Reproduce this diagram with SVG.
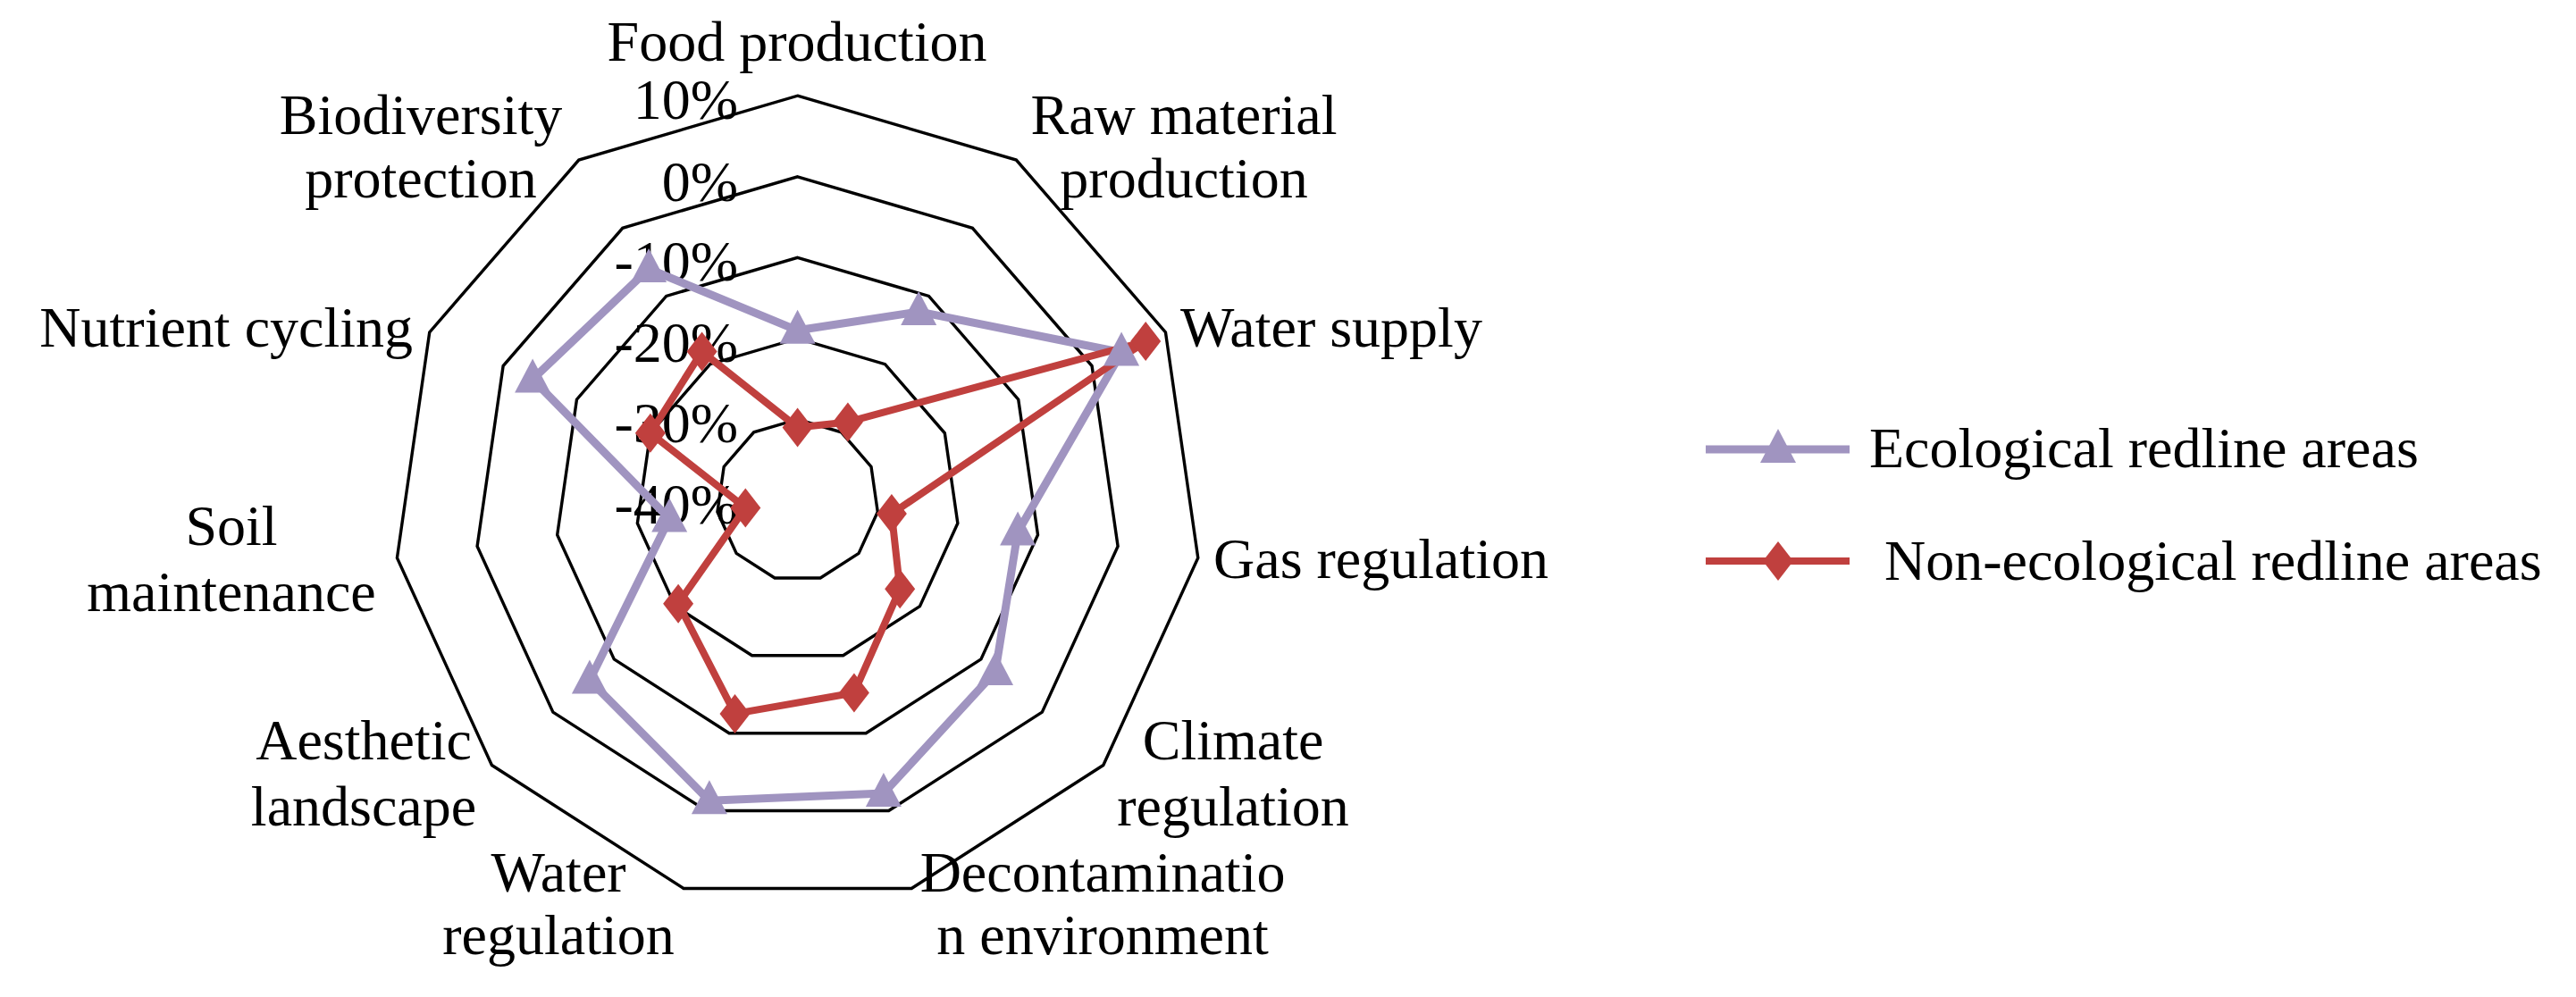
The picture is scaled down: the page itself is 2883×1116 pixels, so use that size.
<svg xmlns="http://www.w3.org/2000/svg" xmlns:xlink="http://www.w3.org/1999/xlink" width="2883" height="1116" viewBox="0 0 2883 1116">
<style>
text{font-family:"Liberation Serif","Times New Roman",serif;font-size:64px;fill:#000}
.c{text-anchor:middle}.r{text-anchor:end}
.ring{fill:none;stroke:#000}
.eco{fill:none;stroke:#A094C0;stroke-width:9;stroke-linejoin:round}
.non{fill:none;stroke:#C0403E;stroke-width:8;stroke-linejoin:round}
</style>
<defs>
<polygon id="ring" points="0,-100 54.06,-84.13 90.96,-41.54 98.98,14.23 75.57,65.49 28.17,95.95 -28.17,95.95 -75.57,65.49 -98.98,14.23 -90.96,-41.54 -54.06,-84.13"/>
<polygon id="tri" points="0,-23 20,15 -20,15" fill="#A094C0"/>
<polygon id="dia" points="0,-22 17,0 0,22 -17,0" fill="#C0403E"/>
</defs>
<rect width="2883" height="1116" fill="#fff"/>
<g id="grid" transform="translate(892.6,560)">
<use xlink:href="#ring" class="ring" transform="scale(4.528)" stroke-width="0.75"/>
<use xlink:href="#ring" class="ring" transform="scale(3.622)" stroke-width="0.94"/>
<use xlink:href="#ring" class="ring" transform="scale(2.717)" stroke-width="1.25"/>
<use xlink:href="#ring" class="ring" transform="scale(1.811)" stroke-width="1.88"/>
<use xlink:href="#ring" class="ring" transform="scale(0.906)" stroke-width="3.75"/>
</g>
<g id="ticks">
<text class="r" x="826" y="133">10%</text>
<text class="r" x="826" y="225">0%</text>
<text class="r" x="826" y="314">-10%</text>
<text class="r" x="826" y="405">-20%</text>
<text class="r" x="826" y="495">-30%</text>
<text class="r" x="826" y="586">-40%</text>
</g>
<g id="connectors">
<polygon id="eco-line" class="eco" points="892.6,369.8 1028.2,348.9 1255.1,394.5 1139.1,595.4 1114.0,751.9 988.9,888.0 793.9,896.3 659.9,761.6 749.2,580.6 596.1,424.6 726.1,301.0"/>
<polygon id="non-line" class="non" points="892.6,478.5 948.9,472.4 1282.2,382.1 997.9,575.1 1007.2,659.3 955.9,775.5 822.5,798.9 759.1,675.7 834.3,568.4 727.9,484.8 785.6,393.5"/>
</g>
<g id="eco-markers">
<use xlink:href="#tri" x="892.6" y="369.8"/><use xlink:href="#tri" x="1028.2" y="348.9"/><use xlink:href="#tri" x="1255.1" y="394.5"/><use xlink:href="#tri" x="1139.1" y="595.4"/><use xlink:href="#tri" x="1114.0" y="751.9"/><use xlink:href="#tri" x="988.9" y="888.0"/><use xlink:href="#tri" x="793.9" y="896.3"/><use xlink:href="#tri" x="659.9" y="761.6"/><use xlink:href="#tri" x="749.2" y="580.6"/><use xlink:href="#tri" x="596.1" y="424.6"/><use xlink:href="#tri" x="726.1" y="301.0"/>
</g>
<g id="non-markers">
<use xlink:href="#dia" x="892.6" y="478.5"/><use xlink:href="#dia" x="948.9" y="472.4"/><use xlink:href="#dia" x="1282.2" y="382.1"/><use xlink:href="#dia" x="997.9" y="575.1"/><use xlink:href="#dia" x="1007.2" y="659.3"/><use xlink:href="#dia" x="955.9" y="775.5"/><use xlink:href="#dia" x="822.5" y="798.9"/><use xlink:href="#dia" x="759.1" y="675.7"/><use xlink:href="#dia" x="834.3" y="568.4"/><use xlink:href="#dia" x="727.9" y="484.8"/><use xlink:href="#dia" x="785.6" y="393.5"/>
</g>
<g id="labels">
<text class="c" x="892" y="68">Food production</text>
<text class="c" x="1325" y="150">Raw material</text><text class="c" x="1325" y="221">production</text>
<text x="1321" y="388">Water supply</text>
<text x="1358" y="647">Gas regulation</text>
<text class="c" x="1380" y="850">Climate</text><text class="c" x="1380" y="924">regulation</text>
<text class="c" x="1234" y="998">Decontaminatio</text><text class="c" x="1234" y="1068">n environment</text>
<text class="c" x="625" y="998">Water</text><text class="c" x="625" y="1068">regulation</text>
<text class="c" x="407" y="850">Aesthetic</text><text class="c" x="407" y="924">landscape</text>
<text class="c" x="259" y="610">Soil</text><text class="c" x="259" y="684">maintenance</text>
<text class="r" x="462" y="388">Nutrient cycling</text>
<text class="c" x="471" y="150">Biodiversity</text><text class="c" x="471" y="221">protection</text>
</g>
<g id="legend">
<line x1="1909" y1="503" x2="2070" y2="503" stroke="#A094C0" stroke-width="9"/>
<use xlink:href="#tri" x="1990" y="503"/>
<text x="2092" y="523">Ecological redline areas</text>
<line x1="1909" y1="628" x2="2070" y2="628" stroke="#C0403E" stroke-width="8"/>
<use xlink:href="#dia" x="1990" y="628"/>
<text x="2109" y="649">Non-ecological redline areas</text>
</g>
</svg>
